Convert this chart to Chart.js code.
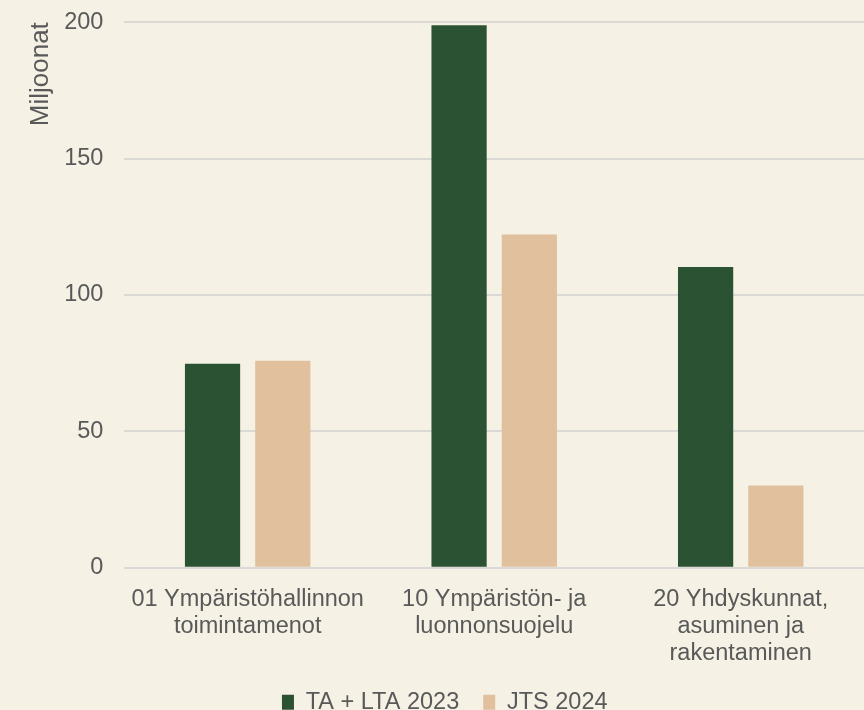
<!DOCTYPE html>
<html>
<head>
<meta charset="utf-8">
<script src="https://cdn.jsdelivr.net/npm/chart.js@4"></script>
<style>
  html, body { margin: 0; padding: 0; background: #F5F1E4; }
  #wrap { width: 864px; height: 710px; overflow: hidden; }
</style>
</head>
<body>
<div id="wrap"><canvas id="chart" width="864" height="724"></canvas></div>
<script>
// luokat ja sarjat (milj. euroa)
const categories = [
    ['01 Ympäristöhallinnon', 'toimintamenot'],
    ['10 Ympäristön- ja', 'luonnonsuojelu'],
    ['20 Yhdyskunnat,', 'asuminen ja', 'rakentaminen'],
];
const seriesNames = ['TA + LTA 2023', 'JTS 2024'];
const ta2023 = [74.8, 198.9, 110.2];
const jts2024 = [75.9, 122.2, 30.1];
const yTicks = [0, 50, 100, 150, 200];

const textColor = '#595959';
const family = "'Liberation Sans', Arial, sans-serif";
const font = { family: family, size: 23.5 };
const labelFont = { family: family, size: 23.5, lineHeight: 1.16 };

// legenda lähemmäs akselin nimikkeitä: pienennetään laatikkoa ja siirretään piirtoa ylös
const legendLift = 11;
const legendLiftPlugin = {
    id: 'legendLift',
    afterInit(chart) {
        const legend = chart.legend;
        const fit = legend.fit.bind(legend);
        legend.fit = function () {
            fit();
            this.height -= legendLift;
        };
    },
    afterLayout(chart) {
        chart.legend.top -= legendLift;
        chart.legend.bottom -= legendLift;
    },
};

new Chart(document.getElementById('chart'), {
    type: 'bar',
    data: {
        labels: categories,
        datasets: [
            {
                label: seriesNames[0],
                data: ta2023,
                backgroundColor: '#2C5234',
                categoryPercentage: 0.57,
                barPercentage: 0.786,
            },
            {
                label: seriesNames[1],
                data: jts2024,
                backgroundColor: '#E1C09D',
                categoryPercentage: 0.57,
                barPercentage: 0.786,
            },
        ],
    },
    options: {
        responsive: false,
        animation: false,
        layout: { padding: { left: 25.5, right: 0, top: 0, bottom: 0 } },
        scales: {
            x: {
                grid: { display: false },
                border: { display: false },
                ticks: { color: textColor, font: labelFont, padding: 10, maxRotation: 0 },
            },
            y: {
                min: 0,
                max: 200,
                afterBuildTicks: axis => { axis.ticks = yTicks.map(v => ({ value: v })); },
                afterFit: axis => { axis.width -= 22.5; },
                grid: { color: '#DAD9D6', lineWidth: 2, drawTicks: false },
                border: { display: false },
                ticks: { color: textColor, font: { family: family, size: 23.5, lineHeight: 0.1 }, padding: 21 },
                title: {
                    display: true,
                    text: 'Miljoonat',
                    align: 'end',
                    color: textColor,
                    font: { family: family, size: 26 },
                    padding: { top: 0, bottom: 9 },
                },
            },
        },
        plugins: {
            legend: {
                position: 'bottom',
                labels: {
                    color: textColor,
                    font: font,
                    boxWidth: 12,
                    boxHeight: 15,
                    padding: 24,
                },
            },
            tooltip: { enabled: false },
        },
    },
    plugins: [legendLiftPlugin],
});
</script>
</body>
</html>
